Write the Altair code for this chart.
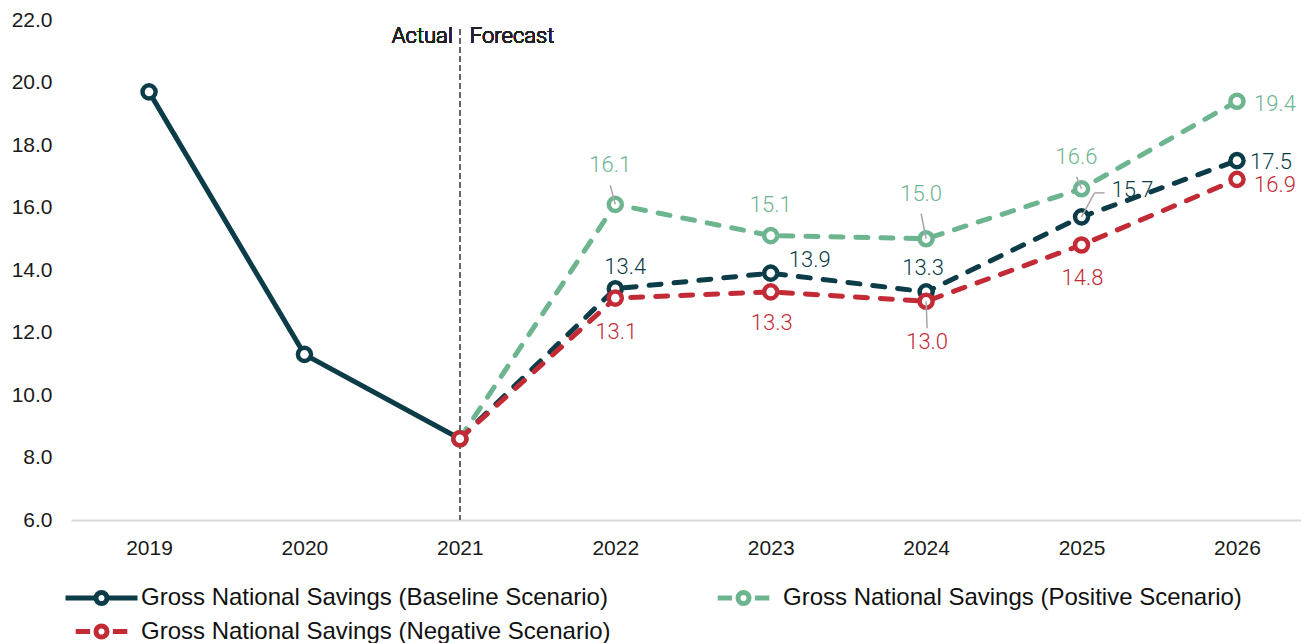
import altair as alt
import pandas as pd

# ---------------- data ----------------
years = [2019, 2020, 2021, 2022, 2023, 2024, 2025, 2026]
baseline = [19.7, 11.3, 8.6, 13.4, 13.9, 13.3, 15.7, 17.5]
positive = [None, None, 8.6, 16.1, 15.1, 15.0, 16.6, 19.4]
negative = [None, None, 8.6, 13.1, 13.3, 13.0, 14.8, 16.9]
y_ticks = [6, 8, 10, 12, 14, 16, 18, 20, 22]
series_keys = ["base", "pos", "neg"]
series_names = [
    "Gross National Savings (Baseline Scenario)",
    "Gross National Savings (Positive Scenario)",
    "Gross National Savings (Negative Scenario)",
]
actual_end = 2021
colors = ["#0B3C47", "#6DB58F", "#C22A36"]

# label placement (pixel offsets from point): (series, year) -> (dx, dy)
label_offsets = {
    ("pos", 2022): (-5, -39), ("pos", 2023): (0, -31), ("pos", 2024): (-5, -45),
    ("pos", 2025): (-5, -32), ("pos", 2026): (38, 3),
    ("base", 2022): (10, -22), ("base", 2023): (39, -13), ("base", 2024): (-3, -24),
    ("base", 2025): (51, -27), ("base", 2026): (34, 1),
    ("neg", 2022): (1, 34), ("neg", 2023): (1, 31), ("neg", 2024): (1, 41),
    ("neg", 2025): (1, 33), ("neg", 2026): (38, 6),
}
# leader lines: (series, year) -> list of segments ((x1off,y1off),(x2off,y2off))
leaders = {
    ("pos", 2022): [((0, 0), (-5, -19))],
    ("pos", 2024): [((0, 0), (-5, -25))],
    ("neg", 2024): [((0, 0), (1, 27))],
    ("pos", 2025): [((0, 0), (-5, -12))],
    ("base", 2025): [((0, 0), (13, -24)), ((13, -24), (23, -24))],
}

rows = []
for key, name, vals in zip(series_keys, series_names, [baseline, positive, negative]):
    for yr, v in zip(years, vals):
        if v is not None:
            rows.append({"year": yr, "value": v, "key": key, "series": name})
df = pd.DataFrame(rows)

LABEL_FONT = "Roboto, Lato, Liberation Sans"
LABEL_WEIGHT = 300
AXIS_FONT = "Liberation Sans"

x_enc = alt.X(
    "year:Q",
    scale=alt.Scale(domain=[2018.498, 2026.412], nice=False, zero=False),
    axis=alt.Axis(
        values=years, format="d", title=None, grid=False, ticks=False,
        domain=True, domainColor="#d9d9d9", domainWidth=2, labelPadding=17,
        labelFont=AXIS_FONT, labelFontSize=21, labelColor="#1a1a1a",
    ),
)
y_enc = alt.Y(
    "value:Q",
    scale=alt.Scale(domain=[6, 22], nice=False, zero=False),
    axis=alt.Axis(
        values=y_ticks, format=".1f", title=None, grid=False, ticks=False,
        domain=False, labelPadding=19,
        labelFont=AXIS_FONT, labelFontSize=21, labelColor="#1a1a1a",
    ),
)

base = alt.Chart(df)
layers = []

# vertical actual/forecast divider
layers.append(
    base.mark_rule(strokeDash=[5, 4], color="#666666", strokeWidth=1.5).encode(
        x=alt.datum(actual_end), y=alt.datum(21.7), y2=alt.datum(6)
    )
)
layers.append(
    base.mark_text(text="Actual", align="right", dx=-7, font=LABEL_FONT,
                   fontWeight=LABEL_WEIGHT, fontSize=22, color="#222222").encode(
        x=alt.datum(actual_end), y=alt.datum(21.5)
    )
)
layers.append(
    base.mark_text(text="Forecast", align="left", dx=10, font=LABEL_FONT,
                   fontWeight=LABEL_WEIGHT, fontSize=22, color="#222222").encode(
        x=alt.datum(actual_end), y=alt.datum(21.5)
    )
)

DASH = [12, 13]
for key, col in zip(series_keys, colors):
    if key == "base":
        layers.append(
            base.transform_filter(f"datum.key=='{key}' && datum.year<={actual_end}")
            .mark_line(color=col, strokeWidth=5, strokeCap="round")
            .encode(x=x_enc, y=y_enc)
        )
    layers.append(
        base.transform_filter(f"datum.key=='{key}' && datum.year>={actual_end}")
        .mark_line(color=col, strokeWidth=5, strokeDash=DASH, strokeCap="round")
        .encode(x=x_enc, y=y_enc)
    )
    layers.append(
        base.transform_filter(f"datum.key=='{key}'")
        .mark_point(filled=True, fill="white", stroke=col, strokeWidth=4.5,
                    size=170, opacity=1, shape="circle")
        .encode(x=x_enc, y=y_enc)
    )

# leader lines
for (key, yr), segs in leaders.items():
    for (a, b) in segs:
        layers.append(
            base.transform_filter(f"datum.key=='{key}' && datum.year=={yr}")
            .mark_rule(color="#a6a6a6", strokeWidth=1.5,
                       xOffset=a[0], yOffset=a[1], x2Offset=b[0], y2Offset=b[1])
            .encode(x=x_enc, y=y_enc, x2="year:Q", y2="value:Q")
        )

# value labels
col_of = dict(zip(series_keys, colors))
for (key, yr), (dx, dy) in label_offsets.items():
    layers.append(
        base.transform_filter(f"datum.key=='{key}' && datum.year=={yr}")
        .mark_text(dx=dx, dy=dy, font=LABEL_FONT, fontWeight=LABEL_WEIGHT, fontSize=22,
                   color=col_of[key], baseline="middle", align="center")
        .encode(x=x_enc, y=y_enc, text=alt.Text("value:Q", format=".1f"))
    )

# legend layer (no marks drawn, only legend)
u = 0.46
circ = f"M-{u},0A{u},{u},0,1,1,{u},0A{u},{u},0,1,1,-{u},0Z"
sym_solid = f"M-3,0H-{u}M{u},0H3" + circ
sym_dash = f"M-2.15,0H-0.95M0.95,0H2.15" + circ
shape_range = [sym_solid, sym_dash, sym_dash]

leg = alt.Legend(
    title=None, orient="none", direction="horizontal", legendX=16, legendY=563,
    columns=2, columnPadding=96, rowPadding=1, padding=0, values=series_names,
    labelFont=AXIS_FONT, labelFontSize=24, labelColor="#111111",
    labelOffset=25, labelLimit=900, symbolSize=576, symbolStrokeWidth=5,
    symbolFillColor="white", symbolOpacity=1,
)
layers.append(
    base.transform_filter("false")
    .mark_point(filled=True, fill="white", size=576, strokeWidth=5, opacity=1)
    .encode(
        x=x_enc, y=y_enc,
        stroke=alt.Stroke("series:N", scale=alt.Scale(domain=series_names, range=colors), legend=leg),
        shape=alt.Shape("series:N", scale=alt.Scale(domain=series_names, range=shape_range), legend=leg),
    )
)

chart = (
    alt.layer(*layers)
    .properties(
        width=1230, height=500,
        background="white",
        autosize=alt.AutoSizeParams(type="none"),
        padding={"left": 63, "top": 12, "right": 0, "bottom": 123},
    )
    .configure_view(stroke=None)
)

chart.save("out.html", embed_options={"renderer": "svg", "actions": False})
